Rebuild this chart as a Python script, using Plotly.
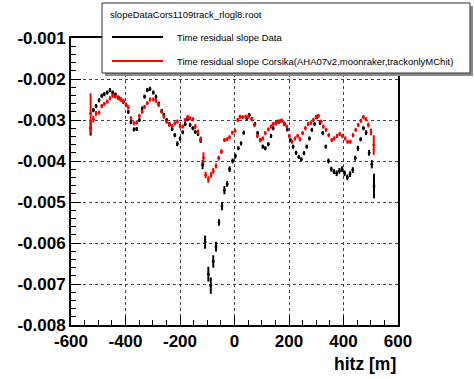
import plotly.graph_objects as go

# ---------------- data ----------------
# Corsika simulation (red), y in units of 1e-3
red_x = [-528,-518,-508,-497,-487,-478,-467,-457,-447,-437,
         -426,-417,-408,-398,-390,-380,-369,-359,-349,-339,
         -330,-320,-310,-298,-288,-278,-267,-259,-249,-239,
         -229,-219,-210,-200,-190,-181,-172,-163,-153,-144,
         -134,-124,-114,-106,-96,-86,-78,-68,-58,-48,
         -37,-27,-18,-8,2,12,20,30,41,51,
         63,73,84,94,104,113,124,134,142,152,
         162,172,182,192,201,211,222,232,240,250,
         260,270,280,289,299,308,318,326,336,346,
         357,366,376,386,396,406,415,425,435,445,
         454,464,473,482,491,501,511]
red_y_milli = [-2.84,-2.98,-2.84,-2.82,-2.66,-2.61,-2.55,-2.47,-2.41,-2.43,
               -2.47,-2.50,-2.53,-2.63,-2.69,-2.96,-3.08,-3.06,-2.90,-2.80,
               -2.68,-2.59,-2.50,-2.50,-2.53,-2.63,-2.80,-2.92,-3.04,-3.12,
               -3.15,-3.08,-3.04,-3.15,-3.16,-3.00,-2.93,-2.96,-2.98,-3.16,
               -3.29,-3.47,-3.92,-4.34,-4.45,-4.34,-4.24,-4.12,-3.93,-3.77,
               -3.49,-3.47,-3.42,-3.31,-3.26,-3.00,-2.92,-2.93,-2.92,-2.92,
               -2.98,-3.12,-3.39,-3.49,-3.45,-3.32,-3.23,-3.16,-3.10,-3.07,
               -3.04,-3.02,-3.08,-3.16,-3.39,-3.53,-3.45,-3.39,-3.47,-3.32,
               -3.20,-3.10,-3.07,-3.00,-2.93,-2.90,-3.04,-3.16,-3.24,-3.37,
               -3.49,-3.45,-3.39,-3.34,-3.39,-3.45,-3.53,-3.53,-3.37,-3.24,
               -3.12,-3.02,-2.93,-2.98,-3.12,-3.29,-3.61]
red_err_milli = [0.49,0.08,0.06,0.05,0.05,0.05,0.05,0.05,0.05,0.05,
                 0.05,0.05,0.05,0.05,0.05,0.05,0.05,0.05,0.05,0.05,
                 0.05,0.05,0.05,0.05,0.05,0.05,0.05,0.05,0.05,0.05,
                 0.05,0.05,0.05,0.05,0.05,0.05,0.05,0.05,0.05,0.06,
                 0.06,0.07,0.13,0.08,0.08,0.07,0.07,0.06,0.06,0.06,
                 0.05,0.05,0.05,0.05,0.05,0.05,0.05,0.05,0.05,0.05,
                 0.05,0.05,0.05,0.05,0.05,0.05,0.05,0.05,0.05,0.05,
                 0.05,0.05,0.05,0.05,0.05,0.05,0.05,0.05,0.05,0.05,
                 0.05,0.05,0.05,0.05,0.05,0.05,0.05,0.05,0.05,0.05,
                 0.05,0.05,0.05,0.05,0.05,0.05,0.05,0.05,0.05,0.05,
                 0.05,0.05,0.05,0.05,0.06,0.08,0.24]

# Data (black), y in units of 1e-3
black_x = [-528,-518,-508,-497,-487,-478,-467,-457,-447,-437,
           -426,-417,-408,-398,-390,-380,-369,-359,-349,-339,
           -330,-320,-310,-298,-288,-278,-267,-259,-249,-239,
           -229,-219,-210,-200,-190,-181,-172,-163,-153,-144,
           -134,-124,-117,-108,-96,-87,-78,-68,-57,-46,
           -37,-27,-18,-7,3,14,24,34,45,54,
           64,75,85,95,104,113,124,134,142,152,
           162,173,183,194,205,215,226,236,245,255,
           265,275,284,294,304,314,324,335,345,355,
           365,375,385,395,404,414,424,434,443,453,
           463,473,483,494,504,512]
black_y_milli = [-3.20,-2.76,-2.66,-2.52,-2.41,-2.37,-2.33,-2.27,-2.33,-2.38,
                 -2.45,-2.50,-2.56,-2.63,-2.80,-3.05,-3.23,-3.22,-3.00,-2.72,
                 -2.43,-2.27,-2.24,-2.33,-2.43,-2.60,-2.78,-2.88,-3.00,-3.10,
                 -3.22,-3.37,-3.58,-3.45,-3.30,-3.10,-2.98,-3.12,-3.20,-3.29,
                 -3.34,-3.50,-4.09,-5.98,-6.76,-7.04,-6.45,-6.09,-5.50,-5.10,
                 -4.71,-4.56,-4.20,-4.00,-3.88,-3.69,-3.57,-3.31,-2.96,-2.88,
                 -2.98,-3.10,-3.32,-3.49,-3.65,-3.69,-3.59,-3.39,-3.20,-3.08,
                 -3.04,-3.02,-3.10,-3.23,-3.49,-3.65,-3.80,-3.90,-3.96,-3.81,
                 -3.65,-3.45,-3.24,-3.10,-2.92,-3.07,-3.32,-3.65,-4.00,-4.20,
                 -4.26,-4.30,-4.24,-4.20,-4.30,-4.40,-4.32,-4.22,-3.93,-3.69,
                 -3.47,-3.20,-3.31,-3.80,-4.08,-4.61]
black_err_milli = [0.18,0.05,0.05,0.05,0.05,0.05,0.05,0.05,0.05,0.05,
                   0.05,0.05,0.05,0.05,0.05,0.05,0.05,0.05,0.05,0.05,
                   0.05,0.05,0.05,0.05,0.05,0.05,0.05,0.05,0.05,0.05,
                   0.05,0.05,0.06,0.05,0.05,0.05,0.05,0.05,0.05,0.05,
                   0.05,0.06,0.11,0.16,0.18,0.20,0.15,0.12,0.08,0.10,
                   0.10,0.07,0.07,0.06,0.06,0.05,0.05,0.05,0.05,0.05,
                   0.05,0.05,0.05,0.05,0.05,0.05,0.05,0.05,0.05,0.05,
                   0.05,0.05,0.05,0.05,0.05,0.05,0.05,0.05,0.05,0.05,
                   0.05,0.05,0.05,0.05,0.05,0.05,0.05,0.05,0.06,0.06,
                   0.06,0.07,0.07,0.07,0.07,0.07,0.07,0.07,0.06,0.06,
                   0.05,0.05,0.06,0.07,0.10,0.30]

bin_half_width = 4.9

x_tick_vals = [-600, -400, -200, 0, 200, 400, 600]
x_tick_text = ["-600", "-400", "-200", "0", "200", "400", "600"]
y_tick_vals = [-0.008, -0.007, -0.006, -0.005, -0.004, -0.003, -0.002, -0.001]
y_tick_text = ["-0.008", "-0.007", "-0.006", "-0.005", "-0.004", "-0.003", "-0.002", "-0.001"]

legend_title = "slopeDataCors1109track_rlogl8.root"
name_black = "Time residual slope Data"
name_red = "Time residual slope Corsika(AHA07v2,moonraker,trackonlyMChit)"

# ---------------- figure ----------------
W, H = 474, 379
L, R, T, B = 71, 76, 38, 54
pw, ph = W - L - R, H - T - B


def px(xp):
    return (xp - L) / pw


def py(yp):
    return (H - B - yp) / ph


FONT = "Liberation Sans, Arial, Helvetica, sans-serif"

fig = go.Figure()


def add_series(xs, ys_milli, errs_milli, color):
    fig.add_trace(go.Scatter(
        x=xs,
        y=[v * 1e-3 for v in ys_milli],
        mode="markers",
        marker=dict(size=2, color=color, symbol="square"),
        error_x=dict(type="constant", value=bin_half_width, color=color,
                     thickness=1.6, width=0),
        error_y=dict(type="data", array=[e * 1e-3 for e in errs_milli],
                     color=color, thickness=2, width=0),
        showlegend=False,
        hoverinfo="x+y",
    ))


add_series(black_x, black_y_milli, black_err_milli, "black")
add_series(red_x, red_y_milli, red_err_milli, "#ff0000")

fig.update_layout(
    width=W, height=H,
    margin=dict(l=L, r=R, t=T, b=B, pad=0, autoexpand=False),
    paper_bgcolor="white", plot_bgcolor="white",
    font=dict(family=FONT, color="black"),
    showlegend=False,
)

fig.update_xaxes(
    range=[-600, 600], tickvals=x_tick_vals, ticktext=x_tick_text,
    automargin=False,
    ticks="inside", ticklen=9, tickwidth=1, tickcolor="black",
    minor=dict(dtick=50, tick0=-600, ticks="inside", ticklen=5, tickcolor="black",
               showgrid=False),
    showline=True, linewidth=2, linecolor="black", mirror=True,
    showgrid=True, gridcolor="#444", griddash="dot", gridwidth=1,
    zeroline=False,
    tickfont=dict(family=FONT, size=17, weight="bold"),
)
fig.update_yaxes(
    range=[-0.008, -0.001], tickvals=y_tick_vals, ticktext=y_tick_text,
    automargin=False,
    ticks="inside", ticklen=10, tickwidth=1, tickcolor="black",
    minor=dict(dtick=0.0002, tick0=-0.008, ticks="inside", ticklen=5, tickcolor="black",
               showgrid=False),
    showline=True, linewidth=2, linecolor="black", mirror=True,
    showgrid=True, gridcolor="#444", griddash="dot", gridwidth=1,
    zeroline=False,
    tickfont=dict(family=FONT, size=17, weight="bold"),
)

# axis title
fig.add_annotation(x=1.0, y=py(364), xref="paper", yref="paper",
                   xanchor="right", yanchor="middle", showarrow=False,
                   text="hitz [m]",
                   font=dict(family=FONT, size=17.5, weight="bold"))

# ROOT-style legend box with shadow
fig.add_shape(type="rect", xref="paper", yref="paper", layer="above",
              x0=px(105), x1=px(473), y0=py(6), y1=py(76),
              fillcolor="#8a8a8a", line=dict(width=0))
fig.add_shape(type="rect", xref="paper", yref="paper", layer="above",
              x0=px(102), x1=px(470), y0=py(3), y1=py(73),
              fillcolor="white", line=dict(color="#333", width=1))
fig.add_shape(type="line", xref="paper", yref="paper", layer="above",
              x0=px(112), x1=px(163), y0=py(37), y1=py(37),
              line=dict(color="black", width=2))
fig.add_shape(type="line", xref="paper", yref="paper", layer="above",
              x0=px(112), x1=px(163), y0=py(61), y1=py(61),
              line=dict(color="#ff0000", width=2))
fig.add_annotation(x=px(108), y=py(14), xref="paper", yref="paper",
                   xanchor="left", yanchor="middle", showarrow=False,
                   text=legend_title, font=dict(family=FONT, size=9.5))
fig.add_annotation(x=px(175), y=py(37), xref="paper", yref="paper",
                   xanchor="left", yanchor="middle", showarrow=False,
                   text=name_black, font=dict(family=FONT, size=9.5))
fig.add_annotation(x=px(175), y=py(61), xref="paper", yref="paper",
                   xanchor="left", yanchor="middle", showarrow=False,
                   text=name_red, font=dict(family=FONT, size=9.5))

fig.write_html("out.html",
               config={"displayModeBar": False},
               post_script="document.body.style.margin='0';document.body.style.padding='0';")
